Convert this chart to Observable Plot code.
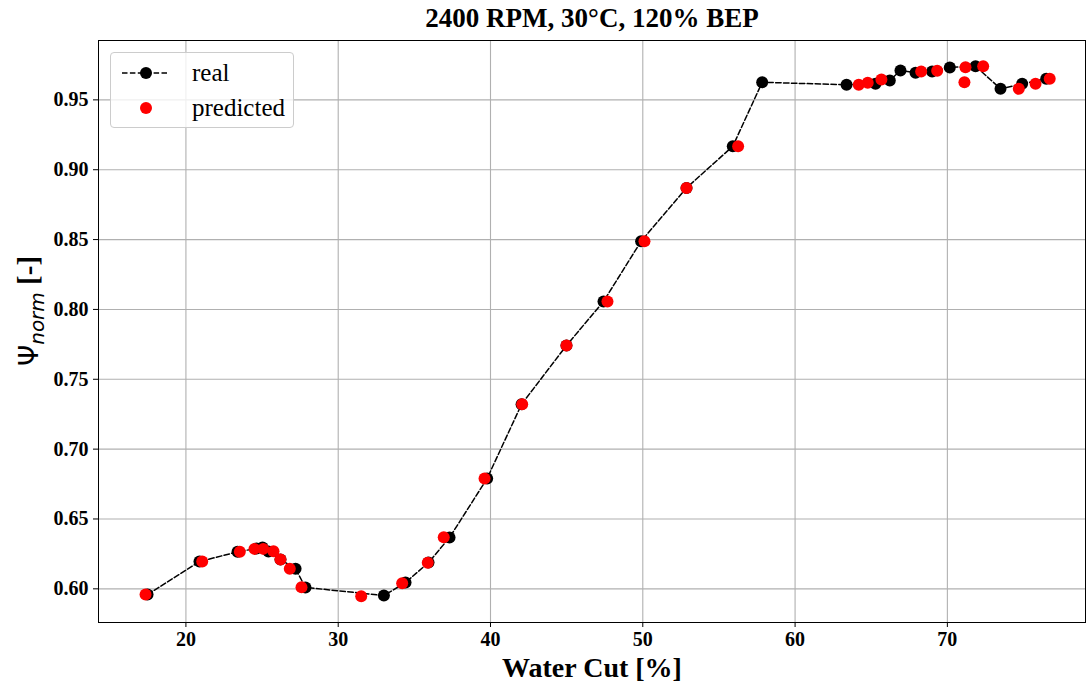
<!DOCTYPE html>
<html>
<head>
<meta charset="utf-8">
<script src="https://cdn.jsdelivr.net/npm/d3@7"></script>
<script src="https://cdn.jsdelivr.net/npm/@observablehq/plot@0.6"></script>
<style>
  html, body { margin: 0; padding: 0; background: #fff; }
  #wrap { position: relative; width: 1086px; height: 688px; font-family: "Liberation Serif", "Times New Roman", serif; }
  .title { position: absolute; left: 98px; width: 988px; top: 3px; text-align: center; font-weight: bold; font-size: 27px; color: #000; }
  .xlabel { position: absolute; left: 98px; width: 988px; top: 653px; text-align: center; font-weight: bold; font-size: 28px; line-height: 30px; color: #000; }
  .ylabel { position: absolute; left: 30px; top: 311px; transform: translate(-50%, -50%) rotate(-90deg); white-space: nowrap; font-weight: bold; font-size: 29px; color: #000; }
  .ylabel .psi { font-family: "DejaVu Sans", sans-serif; font-weight: normal; font-size: 27px; }
  .ylabel sub { font-family: "DejaVu Sans", sans-serif; font-style: italic; font-weight: normal; font-size: 20px; vertical-align: -6px; }
  .legend { position: absolute; left: 110px; top: 52px; width: 184px; height: 76px; box-sizing: border-box; border: 1px solid #cccccc; border-radius: 4px; background: rgba(255,255,255,0.8); }
</style>
</head>
<body>
<div id="wrap">
  <div id="chart"></div>
  <div class="title">2400 RPM, 30°C, 120% BEP</div>
  <div class="xlabel">Water Cut [%]</div>
  <div class="ylabel"><span class="psi">Ψ</span><sub>norm</sub> [-]</div>
  <div class="legend">
    <svg width="184" height="76" style="position:absolute;left:0;top:0">
      <line x1="11" x2="57" y1="20" y2="20" stroke="black" stroke-width="1.5" stroke-dasharray="5.5,2.4"></line>
      <circle cx="35" cy="20" r="6" fill="black"></circle>
      <circle cx="35" cy="55" r="6" fill="red"></circle>
      <text x="81" y="28" font-family="Liberation Serif, serif" font-size="25">real</text>
      <text x="81" y="63" font-family="Liberation Serif, serif" font-size="25">predicted</text>
    </svg>
  </div>
</div>
<script>
const realX = [17.48, 20.89, 23.39, 24.64, 25.03, 25.42, 26.21, 27.20, 27.85, 33.00, 34.42, 35.93, 37.31, 39.78, 42.04, 44.99, 47.42, 49.89, 52.87, 55.91, 57.84, 63.38, 65.28, 66.22, 66.92, 67.91, 69.00, 70.16, 71.85, 73.49, 74.91, 76.49];
const realY = [0.5959, 0.6195, 0.6265, 0.6289, 0.6296, 0.6267, 0.6210, 0.6143, 0.6010, 0.5952, 0.6045, 0.6188, 0.6367, 0.6790, 0.7321, 0.7742, 0.8057, 0.8488, 0.8870, 0.9168, 0.9626, 0.9608, 0.9615, 0.9639, 0.9710, 0.9694, 0.9703, 0.9732, 0.9741, 0.9579, 0.9615, 0.9651];
const predX = [17.35, 21.07, 23.54, 24.50, 25.08, 25.75, 26.21, 26.82, 27.59, 31.51, 34.20, 35.88, 36.93, 39.61, 42.08, 44.99, 47.68, 50.11, 52.87, 56.26, 64.18, 64.77, 65.67, 68.28, 69.33, 71.12, 71.19, 72.35, 74.69, 75.79, 76.72];
const predY = [0.5959, 0.6195, 0.6265, 0.6286, 0.6286, 0.6269, 0.6210, 0.6143, 0.6011, 0.5947, 0.6040, 0.6186, 0.6369, 0.6790, 0.7321, 0.7742, 0.8057, 0.8488, 0.8870, 0.9168, 0.9608, 0.9622, 0.9646, 0.9703, 0.9708, 0.9626, 0.9734, 0.9741, 0.9579, 0.9615, 0.9651];
const xTicks = [20, 30, 40, 50, 60, 70];
const yTicks = [0.60, 0.65, 0.70, 0.75, 0.80, 0.85, 0.90, 0.95];

const real = realX.map((x, i) => ({x, y: realY[i]}));
const pred = predX.map((x, i) => ({x, y: predY[i]}));

const axisFont = {fontFamily: "Liberation Serif", fontSize: 20, fontWeight: "bold"};

const chart = Plot.plot({
  width: 1086,
  height: 688,
  marginLeft: 98,
  marginRight: 1,
  marginTop: 40,
  marginBottom: 66,
  style: {fontFamily: "'Liberation Serif', serif", fontSize: "20px", fontWeight: "bold", background: "white", color: "black"},
  x: {domain: [14.26, 79.07], label: null},
  y: {domain: [0.5759, 0.9925], label: null},
  marks: [
    Plot.gridX(xTicks, {stroke: "#b0b0b0", strokeOpacity: 1, strokeWidth: 1.1}),
    Plot.gridY(yTicks, {stroke: "#b0b0b0", strokeOpacity: 1, strokeWidth: 1.1}),
    Plot.axisX(xTicks, {tickSize: 5, tickPadding: 4, tickFormat: d => String(d), label: null, ...axisFont}),
    Plot.axisY(yTicks, {tickSize: 5, tickPadding: 5, tickFormat: d => d.toFixed(2), label: null, ...axisFont}),
    Plot.line(real, {x: "x", y: "y", stroke: "black", strokeWidth: 1.5, strokeDasharray: "5.5,2.4"}),
    Plot.dot(real, {x: "x", y: "y", r: 6, fill: "black", stroke: "none"}),
    Plot.dot(pred, {x: "x", y: "y", r: 6, fill: "red", stroke: "none"}),
    Plot.frame({stroke: "black", strokeWidth: 1})
  ]
});
document.getElementById("chart").appendChild(chart);
</script>
</body>
</html>
